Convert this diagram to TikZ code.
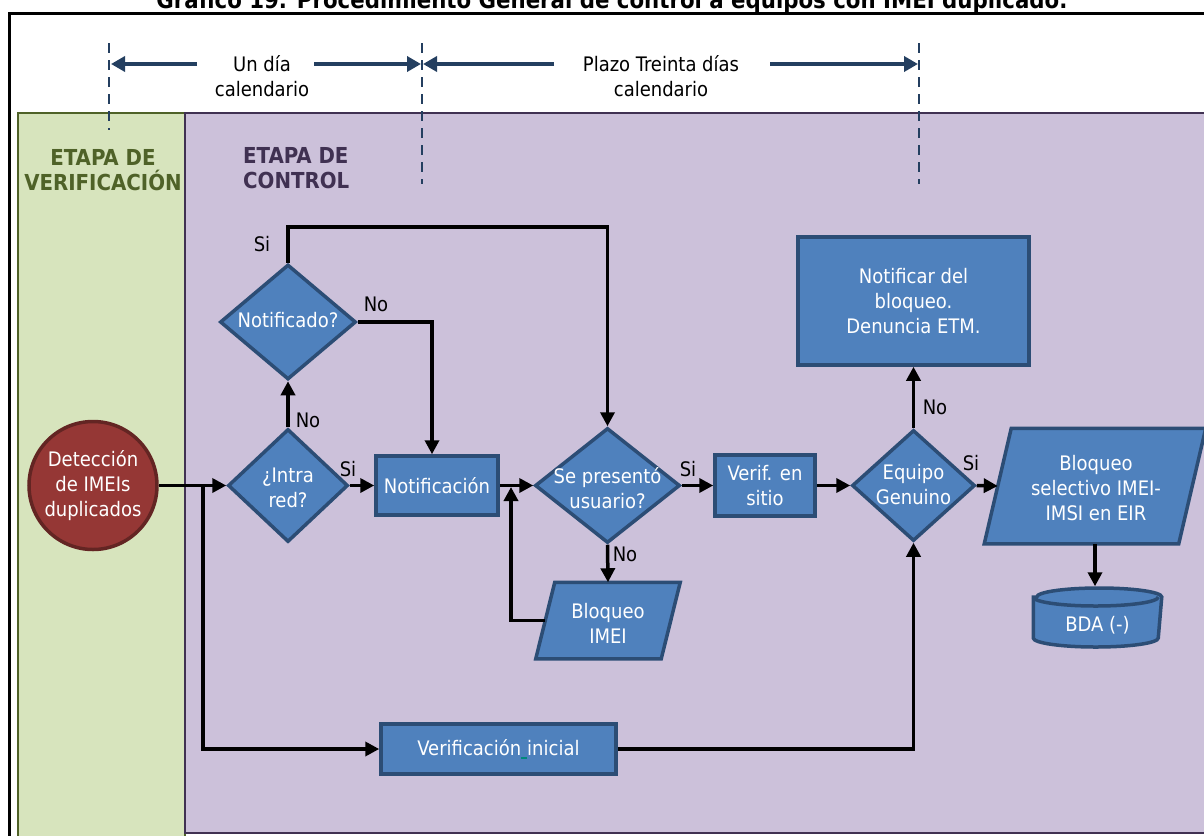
\documentclass[tikz,border=0pt]{standalone}
\usepackage{fontspec}
\usepackage{graphicx}
\setmainfont{DejaVu Sans Condensed}[BoldFont={DejaVu Sans Condensed Bold}]
\usetikzlibrary{arrows.meta,shapes.geometric}

\definecolor{boxfill}{HTML}{4F81BD}
\definecolor{boxline}{HTML}{2C4D75}
\definecolor{redfill}{HTML}{953735}
\definecolor{redline}{HTML}{632523}
\definecolor{greenfill}{HTML}{D7E4BD}
\definecolor{greenline}{HTML}{4F6228}
\definecolor{purplefill}{HTML}{CCC1DA}
\definecolor{purpleline}{HTML}{403152}
\definecolor{navy}{HTML}{243F60}
\definecolor{spell}{HTML}{00897B}

\newcommand{\shapefont}{\fontsize{20}{25}\selectfont}
\newcommand{\headfont}{\fontsize{22}{25}\selectfont\bfseries}

\begin{document}
\begin{tikzpicture}[x=1pt,y=-1pt,
  boxstyle/.style={draw=boxline, fill=boxfill, line width=3.5pt},
  procbox/.style={boxstyle, rectangle, inner sep=0pt, text=white, align=center, font=\shapefont},
  decision/.style={boxstyle, diamond, inner sep=0pt},
  anchorbox/.style={rectangle, inner sep=0pt, outer sep=1.75pt},
  intext/.style={text=white, align=center, font=\shapefont, inner sep=0pt},
  conn/.style={line width=3.5pt, -{Triangle[length=14pt,width=14pt]}},
  yesno/.style={font=\shapefont, text=black, inner sep=0pt},
  timetext/.style={font=\shapefont, text=black, align=center, inner sep=0pt},
  timearrow/.style={draw=navy, line width=3.5pt, -{Triangle[length=14pt,width=15pt]}},
  guide/.style={draw=navy, line width=2.2pt, dash pattern=on 10pt off 7pt},
  heading/.style={font=\headfont, inner sep=0pt}
]
\useasboundingbox (0,0) rectangle (1204,835);
\clip (0,0) rectangle (1204,835);

% caption, cut by the top of the page
\node[anchor=base, inner sep=0pt] (caption) at (612,9)
  {\resizebox{911pt}{!}{\bfseries\fontsize{20}{24}\selectfont Gráfico 19. Procedimiento General de control a equipos con IMEI duplicado.}};

% outer frame
\draw[line width=3pt] (9,13) rectangle (1230,860);

% stage panels
\draw[fill=greenfill, draw=greenline, line width=2.5pt] (18,113) rectangle (185,860);
\draw[fill=purplefill, draw=purpleline, line width=2.5pt] (185,113) rectangle (1230,833);

% time guides
\coordinate (g1) at (109,64);
\coordinate (g2) at (422,64);
\coordinate (g3) at (919,64);
\draw[guide] (109,43) -- (109,130);
\draw[guide] (422,43) -- (422,184);
\draw[guide] (919,43) -- (919,184);

\node[timetext] (t1) at (262,76) {Un día\\calendario};
\node[timetext] (t2) at (661,76) {Plazo Treinta días\\calendario};
\coordinate (a1) at (197,64);
\coordinate (a2) at (314,64);
\coordinate (a3) at (554,64);
\coordinate (a4) at (770,64);
\draw[timearrow] (a1) -- ([xshift=2pt]g1);
\draw[timearrow] (a2) -- ([xshift=-1pt]g2);
\draw[timearrow] (a3) -- ([xshift=1pt]g2);
\draw[timearrow] (a4) -- ([xshift=-1pt]g3);

% stage titles
\node[heading, text=greenline, align=center] (hver) at (103,170.5) {ETAPA DE\\VERIFICACIÓN};
\node[heading, text=purpleline, align=left, anchor=west] (hctl) at (243,168) {ETAPA DE\\CONTROL};

% start event
\node[circle, fill=redfill, draw=redline, line width=3.5pt, minimum size=128pt, inner sep=0pt,
      text=white, align=center, font=\shapefont] (det) at (93,485.5) {Detección\\de IMEIs\\duplicados};

% decisions
\node[decision, minimum width=120pt, minimum height=113pt] (intra) at (288,485.5) {};
\node[intext] at (288,488) {¿Intra\\red?};
\node[decision, minimum width=136pt, minimum height=115pt] (notq) at (288,322) {};
\node[intext] at (288,320) {Notificado?};
\node[decision, minimum width=145pt, minimum height=115pt] (pres) at (607.5,485.5) {};
\node[intext] at (607.5,488) {Se presentó\\usuario?};
\node[decision, minimum width=123pt, minimum height=111pt] (genu) at (913.5,485.5) {};
\node[intext] at (913.5,485) {Equipo\\Genuino};

% processes
\node[procbox, minimum width=122pt, minimum height=59pt] (notif) at (437,485.5) {Notificación};
\node[procbox, minimum width=100pt, minimum height=61pt] (vsit) at (765,485.5) {Verif. en\\sitio};
\node[procbox, minimum width=231pt, minimum height=128pt] (notb) at (913.5,301) {Notificar del\\bloqueo.\\Denuncia ETM.};
\node[procbox, minimum width=235pt, minimum height=50pt] (vini) at (498.5,749)
  {Verificación{\color{spell}\rule[-3pt]{6pt}{1.5pt}}inicial};

% input/output blocks (parallelograms)
\node[anchorbox, minimum width=122pt, minimum height=73pt] (bimei) at (608,620.5) {};
\draw[boxstyle] ([xshift=9.5pt]bimei.north west) -- ([xshift=9.5pt]bimei.north east)
  -- ([xshift=-9.5pt]bimei.south east) -- ([xshift=-9.5pt]bimei.south west) -- cycle;
\node[intext] at (608,623) {Bloqueo\\IMEI};

\node[anchorbox, minimum width=191pt, minimum height=112pt] (bsel) at (1095,486) {};
\draw[boxstyle] ([xshift=13.5pt]bsel.north west) -- ([xshift=13.5pt]bsel.north east)
  -- ([xshift=-13.5pt]bsel.south east) -- ([xshift=-13.5pt]bsel.south west) -- cycle;
\node[intext] at (1096,488) {Bloqueo\\selectivo IMEI-\\IMSI en EIR};

% database
\coordinate (cylt) at (0,597);
\coordinate (cylb) at (0,638);
\node[anchorbox, minimum width=125pt, minimum height=59pt] (bda) at (1097.5,617.5) {};
\draw[boxstyle] (bda.west |- cylt) -- (bda.west |- cylb)
  arc[start angle=180, end angle=360, x radius=62.5pt, y radius=9pt]
  -- (bda.east |- cylt)
  arc[start angle=0, end angle=180, x radius=62.5pt, y radius=9pt] -- cycle;
\draw[draw=boxline, line width=3.5pt] (bda.west |- cylt)
  arc[start angle=180, end angle=360, x radius=62.5pt, y radius=9pt];
\node[intext] at (1097.5,625) {BDA (-)};

% connectors
\coordinate (split) at (203,485.5);
\coordinate (siy) at (0,227);
\coordinate (back) at (511,487);
\draw[conn] (det.east) -- (intra.west);
\draw[conn] (split) |- (vini.west);
\draw[conn] (intra.east) -- (notif.west);
\draw[conn] (intra.north) -- (notq.south);
\draw[conn] (notq.east) -| ([xshift=-5pt]notif.north);
\draw[conn] (notq.north) -- (notq.north |- siy) -| (pres.north);
\draw[conn] (notif.east) -- (pres.west);
\draw[conn] (pres.south) -- (bimei.north);
\draw[conn] (bimei.west) -| (back);
\draw[conn] (pres.east) -- (vsit.west);
\draw[conn] (vsit.east) -- (genu.west);
\draw[conn] (genu.north) -- (notb.south);
\draw[conn] (genu.east) -- (bsel.west);
\draw[conn] (bsel.south) -- (bsel.south |- bda.north);
\draw[conn] (vini.east) -| (genu.south);

% branch labels
\node[yesno] at (348,469) {Si};
\node[yesno] at (308,420) {No};
\node[yesno] at (376,304) {No};
\node[yesno] at (262,244) {Si};
\node[yesno] at (688,469) {Si};
\node[yesno] at (625,554) {No};
\node[yesno] at (971,463) {Si};
\node[yesno] at (935,407) {No};
\end{tikzpicture}
\end{document}
